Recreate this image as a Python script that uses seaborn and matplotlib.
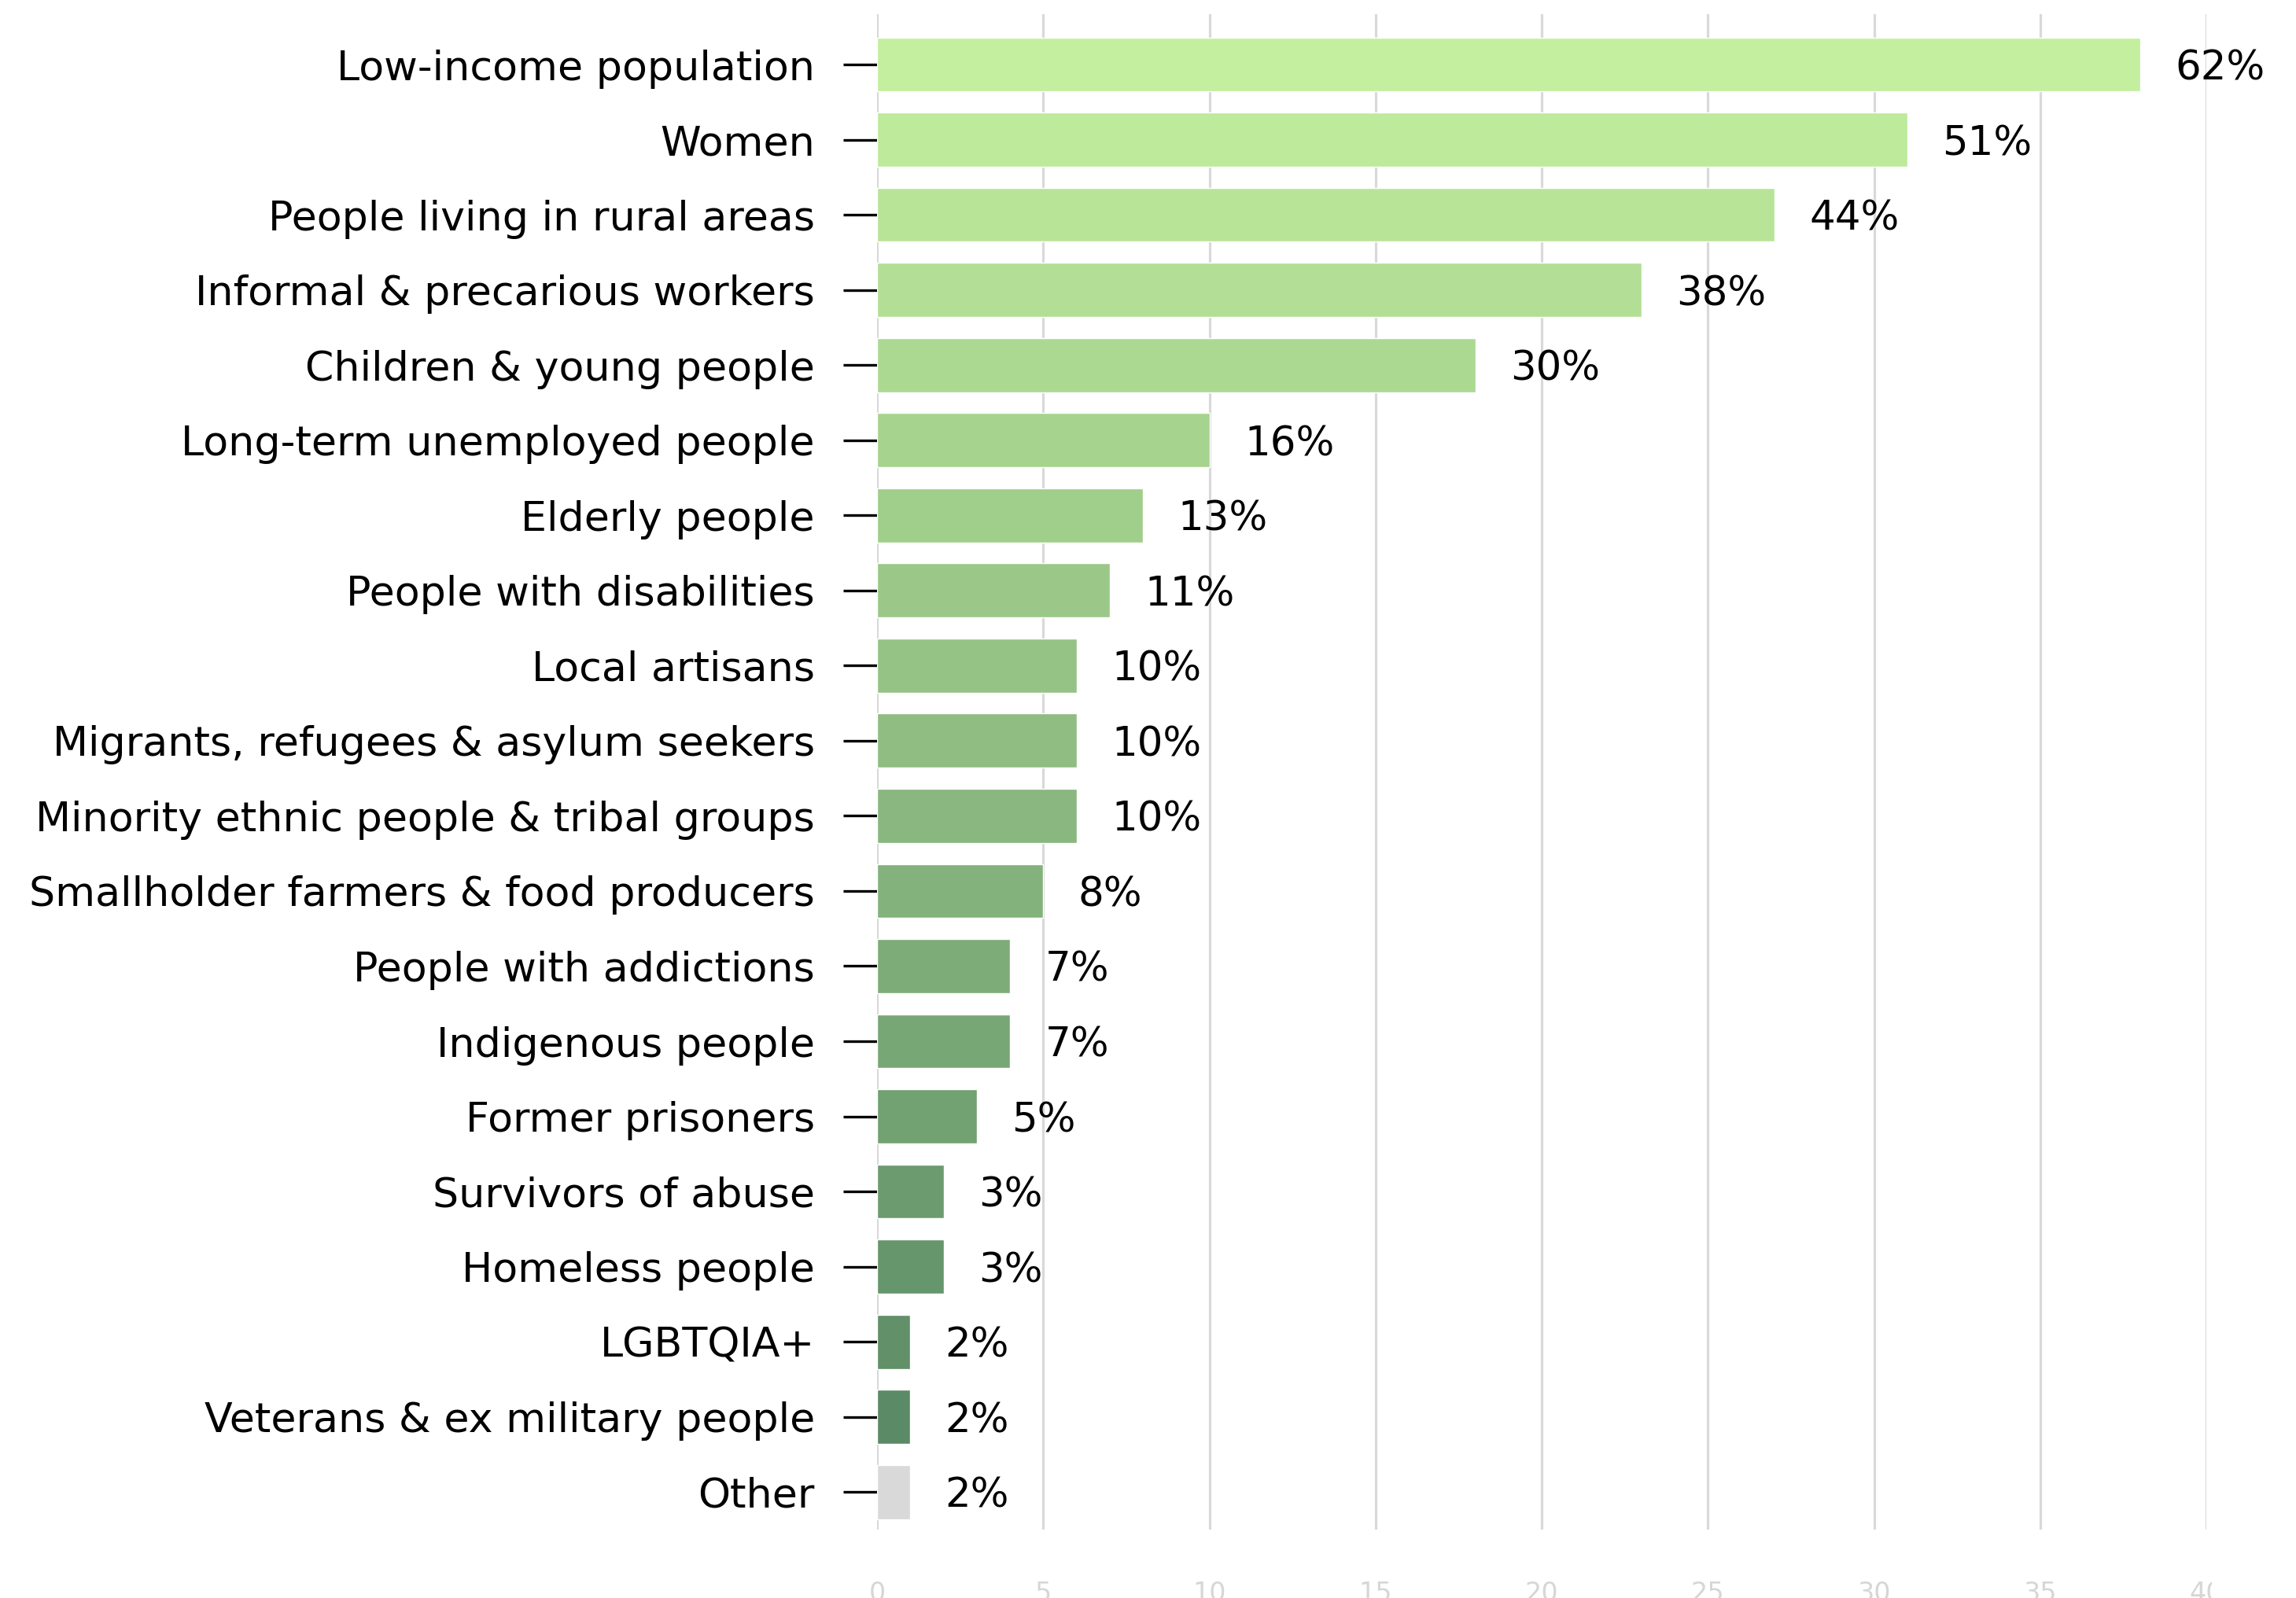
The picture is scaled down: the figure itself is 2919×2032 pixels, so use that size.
import matplotlib
matplotlib.use("Agg")
import matplotlib.pyplot as plt
from matplotlib.transforms import Bbox
import seaborn as sns
import pandas as pd

categories = [
    "Low-income population", "Women", "People living in rural areas",
    "Informal & precarious workers", "Children & young people",
    "Long-term unemployed people", "Elderly people", "People with disabilities",
    "Local artisans", "Migrants, refugees & asylum seekers",
    "Minority ethnic people & tribal groups", "Smallholder farmers & food producers",
    "People with addictions", "Indigenous people", "Former prisoners",
    "Survivors of abuse", "Homeless people", "LGBTQIA+",
    "Veterans & ex military people", "Other",
]
bar_values = [38, 31, 27, 23, 18, 10, 8, 7, 6, 6, 6, 5, 4, 4, 3, 2, 2, 1, 1, 1]
pct_labels = ["62%", "51%", "44%", "38%", "30%", "16%", "13%", "11%", "10%", "10%",
              "10%", "8%", "7%", "7%", "5%", "3%", "3%", "2%", "2%", "2%"]
x_ticks = [0, 5, 10, 15, 20, 25, 30, 35, 40]

FONT = ["DejaVu Sans"]

sns.set_theme(style="white")
plt.rcParams["font.family"] = FONT

W, H = 2919, 2032
fig = plt.figure(figsize=(W / 100, H / 100), dpi=100)
ax = fig.add_axes([1115 / W, 1 - 1945 / H, (2805 - 1115) / W, (1945 - 18) / H])

colors = sns.blend_palette(["#c3ef9e", "#5b8b66"], len(categories) - 1) + ["#d9d9d9"]
df = pd.DataFrame({"cat": categories, "val": bar_values})
sns.barplot(data=df, x="val", y="cat", hue="cat", palette=colors, legend=False,
            width=0.72, saturation=1, ax=ax, zorder=2)

ax.set_xlim(0, 40)
ax.set_ylim(19.5, -0.67)
ax.set_xticks(x_ticks)
ax.set_xticklabels([str(t) for t in x_ticks])
ax.xaxis.grid(True, color="#d9d9d9", linewidth=2.3, zorder=0)
ax.set_axisbelow(True)
for s in ax.spines.values():
    s.set_visible(False)
ax.set_xlabel("")
ax.set_ylabel("")

ax.tick_params(axis="y", length=31, width=2.4, color="black", pad=26,
               labelsize=37.6, labelcolor="black", left=True)
ax.tick_params(axis="x", length=0, pad=47, labelsize=24, labelcolor="#d6d6d6")

for i, (v, lab) in enumerate(zip(bar_values, pct_labels)):
    ax.annotate(lab, xy=(v, i), xytext=(32, 0), textcoords="offset points",
                ha="left", va="center_baseline", fontsize=37, color="black",
                family=FONT, annotation_clip=False)

# the last tick label is cut off by the chart container in the reference
fig.canvas.draw()
clip = Bbox.from_extents(0, 0, 2812, H)
for lbl in ax.get_xticklabels():
    lbl.set_clip_box(clip)
    lbl.set_clip_on(True)

fig.savefig("out.png", dpi=100, facecolor="white")
